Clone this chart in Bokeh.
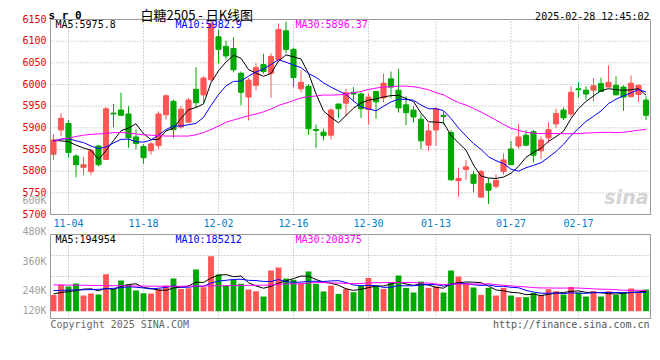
from bokeh.plotting import figure
from bokeh.models import Range1d, Label, ColumnDataSource
from bokeh.core.properties import value
from bokeh.embed import file_html
from bokeh.resources import INLINE

# ---------------- data ----------------
dates = ["10-31", "11-01",
         "11-04", "11-05", "11-06", "11-07", "11-08",
         "11-11", "11-12", "11-13", "11-14", "11-15",
         "11-18", "11-19", "11-20", "11-21", "11-22",
         "11-25", "11-26", "11-27", "11-28", "11-29",
         "12-02", "12-03", "12-04", "12-05", "12-06",
         "12-09", "12-10", "12-11", "12-12", "12-13",
         "12-16", "12-17", "12-18", "12-19", "12-20",
         "12-23", "12-24", "12-25", "12-26", "12-27",
         "12-30", "12-31", "01-02", "01-03",
         "01-06", "01-07", "01-08", "01-09", "01-10",
         "01-13", "01-14", "01-15", "01-16", "01-17",
         "01-20", "01-21", "01-22", "01-23", "01-24",
         "01-27", "02-05", "02-06", "02-07",
         "02-10", "02-11", "02-12", "02-13", "02-14",
         "02-17", "02-18", "02-19", "02-20", "02-21",
         "02-24", "02-25", "02-26", "02-27", "02-28"]

opens = [5839, 5895, 5910, 5835, 5809, 5799, 5858, 5827, 5934, 5941,
         5932, 5879, 5857, 5847, 5859, 5930, 5961, 5902, 5913, 5989,
         5976, 6011, 6110, 6088, 6083, 6026, 5971, 5998, 6046, 6026,
         6057, 6124, 6081, 5990, 5996, 5896, 5890, 5883, 5955, 5957,
         5982, 5978, 5942, 5984, 5969, 6013, 5987, 5953, 5941, 5920,
         5860, 5895, 5929, 5889, 5778, 5804, 5792, 5740, 5771, 5765,
         5799, 5851, 5858, 5883, 5891, 5847, 5877, 5909, 5941, 5932,
         5990, 5987, 5987, 6002, 5994, 5998, 5994, 5972, 5977, 5964]
highs = [5885, 5934, 5918, 5839, 5833, 5852, 5861, 5948, 5955, 5981,
         5950, 5896, 5862, 5867, 5938, 5977, 5965, 5950, 5969, 6040,
         6019, 6150, 6127, 6101, 6109, 6030, 6015, 6049, 6071, 6072,
         6141, 6145, 6085, 6033, 6000, 5908, 5898, 5946, 5955, 5990,
         5994, 5982, 5980, 5984, 6025, 6030, 6036, 5973, 5950, 5931,
         5910, 5948, 5938, 5895, 5808, 5826, 5801, 5803, 5784, 5793,
         5841, 5870, 5909, 5895, 5895, 5880, 5912, 5944, 5947, 5996,
         6005, 5996, 6015, 6016, 6044, 6019, 5998, 6021, 6000, 5973]
lows = [5826, 5881, 5831, 5786, 5791, 5791, 5811, 5827, 5901, 5927,
        5854, 5851, 5817, 5838, 5852, 5919, 5877, 5898, 5913, 5946,
        5958, 6007, 6049, 6058, 6028, 5952, 5917, 5987, 6025, 5969,
        6057, 6072, 5994, 5982, 5884, 5854, 5871, 5873, 5923, 5927,
        5961, 5923, 5907, 5921, 5959, 5969, 5935, 5906, 5912, 5851,
        5847, 5858, 5908, 5778, 5741, 5780, 5751, 5740, 5724, 5760,
        5792, 5815, 5852, 5857, 5820, 5828, 5866, 5900, 5918, 5925,
        5969, 5965, 5961, 5984, 5993, 5976, 5939, 5970, 5960, 5918]
closes = [5872, 5922, 5843, 5815, 5815, 5847, 5815, 5944, 5932, 5929,
          5877, 5864, 5831, 5863, 5932, 5974, 5896, 5943, 5964, 5958,
          6015, 6140, 6081, 6066, 6034, 5982, 6010, 6039, 6030, 6065,
          6127, 6081, 6016, 6005, 5898, 5894, 5882, 5941, 5944, 5981,
          5978, 5944, 5971, 5960, 6003, 5994, 5946, 5935, 5925, 5870,
          5893, 5944, 5926, 5780, 5783, 5810, 5772, 5799, 5756, 5779,
          5826, 5815, 5879, 5860, 5837, 5872, 5896, 5933, 5923, 5982,
          5988, 5978, 5997, 5984, 6005, 5976, 5971, 6003, 5998, 5929]
volumes = [162000, 262000, 245000, 275000, 156000, 176000, 166000, 368000, 222000, 305000,
           265000, 206000, 179000, 176000, 222000, 255000, 325000, 222000, 229000, 415000,
           239000, 547000, 365000, 255000, 312000, 272000, 216000, 199000, 146000, 405000,
           435000, 325000, 312000, 272000, 395000, 272000, 196000, 255000, 172000, 222000,
           189000, 255000, 332000, 255000, 222000, 289000, 355000, 232000, 186000, 295000,
           232000, 245000, 186000, 405000, 345000, 272000, 236000, 162000, 232000, 156000,
           232000, 156000, 139000, 139000, 182000, 162000, 219000, 199000, 166000, 242000,
           186000, 146000, 199000, 146000, 199000, 162000, 189000, 226000, 189000, 216000]

# moving-average values at the left edge (their windows start before the chart)
price_ma5_head = [5871, 5870, 5868, 5860]
price_ma10_head = [5870, 5874, 5875, 5870, 5866, 5858, 5852, 5856, 5865]
price_ma30_head = [5868, 5874, 5876, 5880, 5883, 5885, 5886, 5887, 5889, 5889,
                   5888, 5886, 5884, 5883, 5882, 5881, 5881, 5881, 5881, 5884,
                   5889, 5896, 5904, 5913, 5918, 5923, 5928, 5932, 5937]
vol_ma5_head = [172000, 186000, 196000, 205000]
vol_ma10_head = [205000, 207000, 210000, 212000, 213000, 215000, 218000, 222000, 228000]
vol_ma30_head = [262000, 261000, 260000, 259000, 258000, 257000, 256000, 255000, 254000, 253000,
                 252000, 251000, 250000, 249000, 248000, 248000, 248000, 248000, 249000, 250000,
                 251000, 252000, 253000, 254000, 255000, 256000, 257000, 258000, 259000]

x_tick_labels = ["11-04", "11-18", "12-02", "12-16", "12-30", "01-13", "01-27", "02-17"]
price_ticks = [5700, 5750, 5800, 5850, 5900, 5950, 6000, 6050, 6100, 6150]
vol_axis_labels = ["600K", "480K", "360K", "240K", "120K"]

price_ma_texts = ["MA5:5975.8", "MA10:5982.9", "MA30:5896.37"]
vol_ma_texts = ["MA5:194954", "MA10:185212", "MA30:208375"]
title_code = "s r 0"
title_name = "白糖2505 - 日K线图"
timestamp = "2025-02-28 12:45:02"
copyright_text = "Copyright 2025 SINA.COM"
url_text = "http://finance.sina.com.cn"

# ---------------- layout / style constants ----------------
W, H = 660, 360
FRAME_L, FRAME_R = 50, 650          # pane left/right edges (px)
PRICE_TOP, PRICE_BOT = 19, 214      # price pane (px from top)
VOL_TOP, VOL_BOT, VOL_ZERO = 234, 318, 310.7
VOL_PER_PX = 9952.0
MONO = "DejaVu Sans Mono"
UP = "#ff5555"
DOWN = "#00a800"
MA_COLORS = ["#000000", "#0000ff", "#ff00ff"]
GRID = "#aaaaaa"
FRAME = "#999999"
# vertical offsets (px, up = positive) of the volume-axis texts from the price-pane bottom
VOL_LABEL_DY = [13.7, -16.7, -47.0, -75.7, -96.3]


def moving_avg(vals, n, head):
    out = list(head)
    for i in range(len(head), len(vals)):
        out.append(sum(vals[i - n + 1:i + 1]) / n)
    return out


N = len(dates)
xs = list(range(N))
slot_px = (FRAME_R - FRAME_L) / N
pane_x0, pane_x1 = -0.4, N - 0.4
x_start = pane_x0 - FRAME_L / slot_px
x_end = x_start + W / slot_px

p_lo, p_hi = price_ticks[0], price_ticks[-1]
price_per_px = (p_hi - p_lo) / (PRICE_BOT - PRICE_TOP)
y_start = p_lo - (H - PRICE_BOT) * price_per_px
y_end = p_hi + PRICE_TOP * price_per_px

vol_start = -(H - VOL_ZERO) * VOL_PER_PX
vol_end = VOL_ZERO * VOL_PER_PX
vol_pane_top = (VOL_ZERO - VOL_TOP) * VOL_PER_PX
vol_pane_bot = -(VOL_BOT - VOL_ZERO) * VOL_PER_PX

tick_idx = [dates.index(d) for d in x_tick_labels]
colors = [UP if c >= o else DOWN for o, c in zip(opens, closes)]

src = ColumnDataSource(dict(
    x=xs, high=highs, low=lows,
    top=[max(o, c) for o, c in zip(opens, closes)],
    bottom=[min(o, c) for o, c in zip(opens, closes)],
    color=colors, vol=volumes,
))

price_mas = [moving_avg(closes, 5, price_ma5_head),
             moving_avg(closes, 10, price_ma10_head),
             moving_avg(closes, 30, price_ma30_head)]
vol_mas = [moving_avg(volumes, 5, vol_ma5_head),
           moving_avg(volumes, 10, vol_ma10_head),
           moving_avg(volumes, 30, vol_ma30_head)]

p = figure(width=W, height=H, x_range=Range1d(x_start, x_end), y_range=Range1d(y_start, y_end),
           x_axis_type=None, y_axis_type=None, title=None,
           output_backend="svg", toolbar_location=None,
           min_border=0, min_border_left=0, min_border_right=0,
           min_border_top=0, min_border_bottom=0)
p.extra_y_ranges = {"vol": Range1d(vol_start, vol_end)}
p.outline_line_color = None
p.background_fill_color = "white"
p.border_fill_color = "white"
p.grid.visible = False

# ---------- grid lines ----------
inner_price = price_ticks[1:-1]
p.segment(x0=[pane_x0] * len(inner_price), y0=inner_price, x1=[pane_x1] * len(inner_price), y1=inner_price,
          line_color=GRID, line_dash="1 2", line_width=1)
p.segment(x0=tick_idx, y0=[p_lo] * len(tick_idx), x1=tick_idx, y1=[p_hi] * len(tick_idx),
          line_color=GRID, line_dash="1 2", line_width=1)
vol_grid = [vol_pane_top - (vol_pane_top - vol_pane_bot) * f for f in (0.25, 0.5, 0.75)]
p.segment(x0=[pane_x0] * 3, y0=vol_grid, x1=[pane_x1] * 3, y1=vol_grid,
          line_color=GRID, line_dash="1 2", line_width=1, y_range_name="vol")
p.segment(x0=tick_idx, y0=[vol_pane_bot] * len(tick_idx), x1=tick_idx, y1=[vol_pane_top] * len(tick_idx),
          line_color=GRID, line_dash="1 2", line_width=1, y_range_name="vol")

# ---------- pane frames ----------
p.quad(left=[pane_x0], right=[pane_x1], bottom=[p_lo], top=[p_hi],
       fill_color=None, line_color=FRAME, line_width=1)
p.quad(left=[pane_x0], right=[pane_x1], bottom=[vol_pane_bot], top=[vol_pane_top],
       fill_color=None, line_color=FRAME, line_width=1, y_range_name="vol")

# ---------- candles ----------
p.segment(x0="x", y0="high", x1="x", y1="low", line_color="color", line_width=1, source=src)
p.vbar(x="x", width=0.68, top="top", bottom="bottom", fill_color="color",
       line_color="color", line_width=1, source=src)
for ma, c in zip(price_mas, MA_COLORS):
    p.line(xs, ma, line_color=c, line_width=1)

# ---------- volume ----------
p.vbar(x="x", width=0.78, top="vol", bottom=0, fill_color="color", line_color=None,
       source=src, y_range_name="vol")
for ma, c in zip(vol_mas, MA_COLORS):
    p.line(xs, ma, line_color=c, line_width=1, y_range_name="vol")

# ---------- axis texts ----------
p.text(x=[pane_x0] * len(price_ticks), y=price_ticks, text=[str(t) for t in price_ticks],
       x_offset=-4, y_offset=-1, text_align="right", text_baseline="middle",
       text_font=value(MONO), text_font_size=value("10px"), text_color="#e60000")
p.text(x=tick_idx, y=[p_lo] * len(tick_idx), text=x_tick_labels,
       y_offset=8, text_align="center", text_baseline="middle",
       text_font=value(MONO), text_font_size=value("10px"), text_color="#0080c8")

for t, dy in zip(vol_axis_labels, VOL_LABEL_DY):
    p.add_layout(Label(x=pane_x0, y=p_lo, x_offset=-4, y_offset=dy, text=t,
                       text_font=MONO, text_font_size="10px", text_color="#a0a0a0",
                       text_baseline="middle", text_align="right"))

# ---------- MA legends ----------
ma_text_dx = [5, 125, 245]
for t, c, dx in zip(price_ma_texts, MA_COLORS, ma_text_dx):
    p.add_layout(Label(x=pane_x0, y=p_hi, x_offset=dx, y_offset=-5, text=t,
                       text_color=c, text_font=MONO, text_font_size="10px",
                       text_baseline="middle", text_align="left"))
for t, c, dx in zip(vol_ma_texts, MA_COLORS, ma_text_dx):
    p.add_layout(Label(x=pane_x0, y=vol_pane_top, y_range_name="vol", x_offset=dx, y_offset=-4.5,
                       text=t, text_color=c, text_font=MONO, text_font_size="10px",
                       text_baseline="middle", text_align="left"))

# ---------- header ----------
p.add_layout(Label(x=pane_x0, y=p_hi, x_offset=-2, y_offset=4, text=title_code,
                   text_font=MONO, text_font_size="11px", text_font_style="bold",
                   text_color="#000000", text_baseline="alphabetic", text_align="left"))
p.add_layout(Label(x=pane_x0, y=p_hi, x_offset=90, y_offset=5, text=title_name,
                   text_font="Noto Sans CJK SC", text_font_size="13px",
                   text_color="#000000", text_baseline="alphabetic", text_align="left"))
p.add_layout(Label(x=pane_x1, y=p_hi, x_offset=-1, y_offset=3, text=timestamp,
                   text_font=MONO, text_font_size="10px",
                   text_color="#000000", text_baseline="alphabetic", text_align="right"))

# ---------- watermark ----------
p.add_layout(Label(x=pane_x1, y=p_lo, x_offset=-2, y_offset=7, text="sina",
                   text_font="DejaVu Sans", text_font_size="19px", text_font_style="bold italic",
                   text_color="#d4d4d4", text_baseline="bottom", text_align="right"))

# ---------- footer ----------
p.add_layout(Label(x=pane_x0, y=vol_pane_bot, y_range_name="vol", x_offset=0, y_offset=-6,
                   text=copyright_text, text_font=MONO, text_font_size="10px",
                   text_color="#666666", text_baseline="middle", text_align="left"))
p.add_layout(Label(x=pane_x1, y=vol_pane_bot, y_range_name="vol", x_offset=-1, y_offset=-6,
                   text=url_text, text_font=MONO, text_font_size="10px",
                   text_color="#555555", text_baseline="middle", text_align="right"))

open("out.html", "w").write(file_html(p, INLINE))
